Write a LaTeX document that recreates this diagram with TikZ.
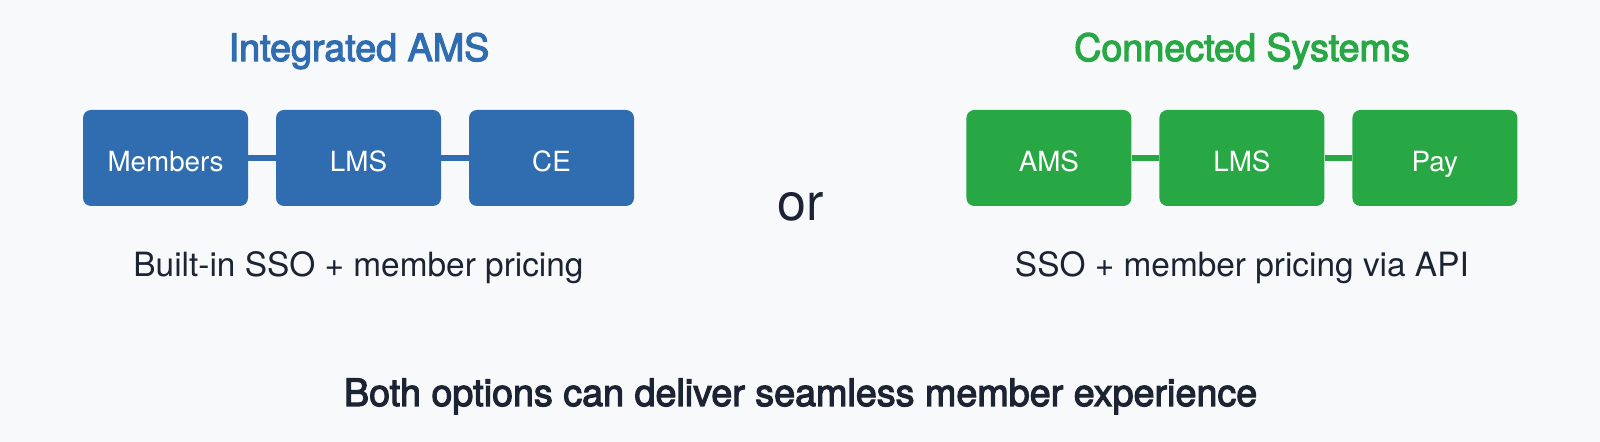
\documentclass[tikz,border=0pt]{standalone}
\usepackage{fontspec}
\setmainfont{TeX Gyre Heros}
\newfontfamily\medfont[FakeBold=3]{TeX Gyre Heros}
\definecolor{amsblue}{HTML}{2F6DB0}
\definecolor{sysgreen}{HTML}{28A745}
\definecolor{inkdark}{HTML}{1C2333}
\definecolor{paper}{HTML}{F8F9FA}
\tikzset{
    sysbox/.style={rounded corners=4pt, minimum width=82.5pt, minimum height=48pt, inner sep=0pt, text height=13.7pt, text depth=0pt, text=white, font=\fontsize{13.9}{16}\selectfont},
    link/.style={line width=2.8pt},
    heading/.style={anchor=base, font=\medfont\fontsize{18.85}{22}\selectfont},
    caption/.style={anchor=base, text=inkdark, font=\fontsize{16.7}{20}\selectfont}
}
\begin{document}
\begin{tikzpicture}[x=0.5pt, y=-0.5pt]
    \fill[paper] (0,0) rectangle (1600,442);
    \useasboundingbox (0,0) rectangle (1600,442);
    \node[heading, text=amsblue] (titleA) at (359,61) {Integrated AMS};
    \node[sysbox, fill=amsblue] (members) at (165.5,158) {Members};
    \node[sysbox, fill=amsblue] (lmsA) at (358.5,158) {LMS};
    \node[sysbox, fill=amsblue] (ce) at (551.5,158) {CE};
    \draw[link, amsblue] (members) -- (lmsA);
    \draw[link, amsblue] (lmsA) -- (ce);
    \node[caption] (capA) at (358.5,277) {Built-in SSO + member pricing};
    \node[anchor=base, text=inkdark, font=\fontsize{26}{30}\selectfont] (or) at (801,221) {or};
    \node[heading, text=sysgreen] (titleB) at (1242,61) {Connected Systems};
    \node[sysbox, fill=sysgreen] (ams) at (1048.9,158) {AMS};
    \node[sysbox, fill=sysgreen] (lmsB) at (1241.9,158) {LMS};
    \node[sysbox, fill=sysgreen] (pay) at (1434.9,158) {Pay};
    \draw[link, sysgreen] (ams) -- (lmsB);
    \draw[link, sysgreen] (lmsB) -- (pay);
    \node[caption] (capB) at (1241.9,277) {SSO + member pricing via API};
    \node[heading, text=inkdark] (summary) at (800.6,406) {Both options can deliver seamless member experience};
\end{tikzpicture}
\end{document}
